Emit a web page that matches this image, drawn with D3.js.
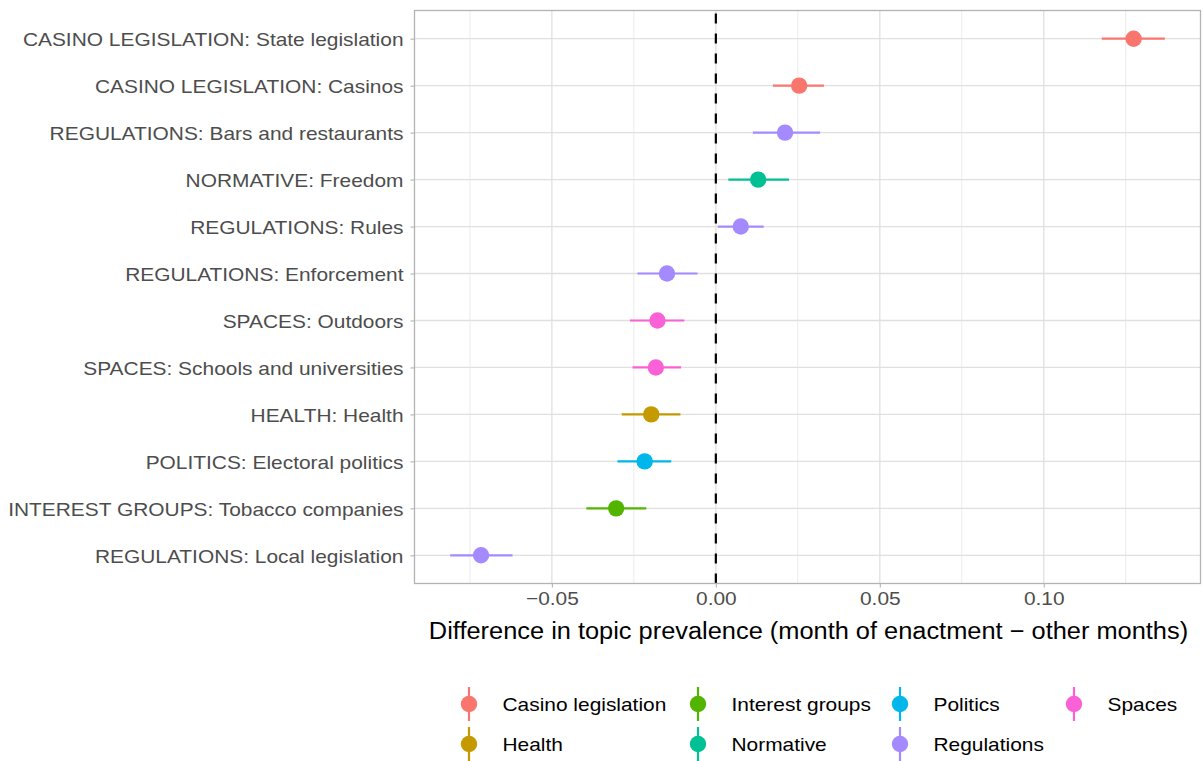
<!DOCTYPE html>
<html><head><meta charset="utf-8">
<script src="https://cdn.jsdelivr.net/npm/d3@7"></script>
<style>body{margin:0;background:#fff}svg{display:block;font-family:"Liberation Sans",Arial,sans-serif}</style>
</head><body><svg id="c" width="1204" height="761"></svg>
<script>
const labels = ["CASINO LEGISLATION: State legislation","CASINO LEGISLATION: Casinos","REGULATIONS: Bars and restaurants","NORMATIVE: Freedom","REGULATIONS: Rules","REGULATIONS: Enforcement","SPACES: Outdoors","SPACES: Schools and universities","HEALTH: Health","POLITICS: Electoral politics","INTEREST GROUPS: Tobacco companies","REGULATIONS: Local legislation"];
const groups = ["Casino legislation","Casino legislation","Regulations","Normative","Regulations","Regulations","Spaces","Spaces","Health","Politics","Interest groups","Regulations"];
const estimates = [0.1274,0.0254,0.0211,0.0129,0.0076,-0.0149,-0.0178,-0.0183,-0.0197,-0.0217,-0.0304,-0.0716];
const lower = [0.1177,0.0174,0.0113,0.0038,0.0006,-0.0239,-0.0262,-0.0254,-0.0287,-0.0300,-0.0395,-0.0810];
const upper = [0.1369,0.0330,0.0318,0.0223,0.0146,-0.0056,-0.0096,-0.0106,-0.0108,-0.0136,-0.0212,-0.0620];
const legendGroups = ["Casino legislation","Health","Interest groups","Normative","Politics","Regulations","Spaces"];
const groupColors = ["#F8766D","#C49A00","#53B400","#00C094","#00B6EB","#A58AFF","#FB61D7"];
const xTicks = [-0.05,0,0.05,0.10];
const xTickLabels = ["\u22120.05","0.00","0.05","0.10"];
const xMinor = [-0.075,-0.025,0.025,0.075,0.125];
const xTitle = "Difference in topic prevalence (month of enactment \u2212 other months)";

const svg = d3.select("#c");
const P = {l:414.5, r:1200.5, t:10.5, b:583.5};
const lo = d3.min(lower), hi = d3.max(upper), ext = (hi-lo)*0.05;
const x = d3.scaleLinear().domain([lo-ext, hi+ext]).range([P.l, P.r]);
const y = d3.scalePoint().domain(labels).range([P.t, P.b]).padding(0.6);
const color = d3.scaleOrdinal().domain(legendGroups).range(groupColors);

function stretch(sel, k){
  sel.each(function(){
    const w = this.getComputedTextLength();
    d3.select(this).attr("textLength", w*k).attr("lengthAdjust","spacingAndGlyphs");
  });
}

// grid
const g = svg.append("g");
g.selectAll(".minor").data(xMinor).join("line")
  .attr("x1",d=>x(d)).attr("x2",d=>x(d)).attr("y1",P.t).attr("y2",P.b)
  .attr("stroke","#EBEBEB").attr("stroke-width",1);
g.selectAll(".major").data(xTicks).join("line")
  .attr("x1",d=>x(d)).attr("x2",d=>x(d)).attr("y1",P.t).attr("y2",P.b)
  .attr("stroke","#E0E0E0").attr("stroke-width",1.3);
g.selectAll(".hgrid").data(labels).join("line")
  .attr("x1",P.l).attr("x2",P.r).attr("y1",d=>y(d)).attr("y2",d=>y(d))
  .attr("stroke","#E0E0E0").attr("stroke-width",1.3);

// zero line
svg.append("line").attr("x1",x(0)).attr("x2",x(0)).attr("y1",P.b).attr("y2",P.t)
  .attr("stroke","#000").attr("stroke-width",2.2).attr("stroke-dasharray","10,10");

// error bars + points
const rows = labels.map((l,i)=>({l, g:groups[i], e:estimates[i], lo:lower[i], hi:upper[i]}));
svg.selectAll(".err").data(rows).join("line")
  .attr("x1",d=>x(d.lo)).attr("x2",d=>x(d.hi)).attr("y1",d=>y(d.l)).attr("y2",d=>y(d.l))
  .attr("stroke",d=>color(d.g)).attr("stroke-width",2.2);
svg.selectAll(".pt").data(rows).join("circle")
  .attr("cx",d=>x(d.e)).attr("cy",d=>y(d.l)).attr("r",8.2).attr("fill",d=>color(d.g));

// border
svg.append("rect").attr("x",P.l).attr("y",P.t).attr("width",P.r-P.l).attr("height",P.b-P.t)
  .attr("fill","none").attr("stroke","#B3B3B3").attr("stroke-width",1.3);

// axes
const xa = svg.append("g").attr("transform",`translate(0,${P.b})`)
  .call(d3.axisBottom(x).tickValues(xTicks).tickFormat((d,i)=>xTickLabels[i]).tickSize(4).tickPadding(3));
const ya = svg.append("g").attr("transform",`translate(${P.l},0)`)
  .call(d3.axisLeft(y).tickSize(4).tickPadding(7));
[xa,ya].forEach(a=>{
  a.select(".domain").remove();
  a.selectAll(".tick line").attr("stroke","#B3B3B3").attr("stroke-width",1.1);
  a.selectAll(".tick text").attr("fill","#4D4D4D").style("font-size","19px").style("font-family","Liberation Sans, Arial, sans-serif");
});
xa.selectAll(".tick text").attr("dy","0.78em");
ya.selectAll(".tick text").attr("dy","0.36em");
stretch(xa.selectAll(".tick text"),1.1);
stretch(ya.selectAll(".tick text"),1.1);

const tt = svg.append("text").attr("x",(P.l+P.r)/2+1).attr("y",639).attr("text-anchor","middle")
  .attr("fill","#000").style("font-size","23.5px").text(xTitle);
stretch(tt,1.08);

// legend (2 rows, column-major)
const colX = [469,698,900,1074];
const rowY = [704,744];
const lg = svg.append("g");
legendGroups.forEach((name,i)=>{
  const c = Math.floor(i/2), r = i%2;
  const cx = colX[c], cy = rowY[r];
  const k = lg.append("g");
  k.append("line").attr("x1",cx).attr("x2",cx).attr("y1",cy-17).attr("y2",cy+17)
    .attr("stroke",color(name)).attr("stroke-width",2.2);
  k.append("circle").attr("cx",cx).attr("cy",cy).attr("r",8.2).attr("fill",color(name));
  const t = k.append("text").attr("x",cx+33.5).attr("y",cy).attr("dy","0.36em")
    .attr("fill","#000").style("font-size","19px").text(name);
  stretch(t,1.1);
});
</script></body></html>
